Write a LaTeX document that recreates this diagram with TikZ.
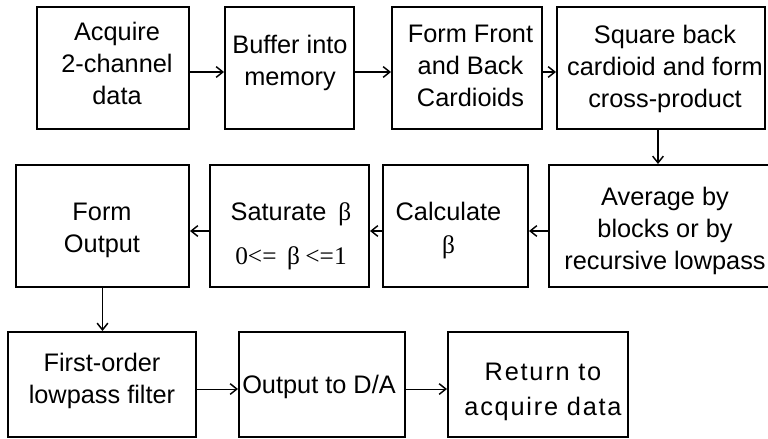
\documentclass[tikz,border=0pt]{standalone}
\usepackage{fontspec}
\setmainfont{Liberation Sans}
\newfontfamily\timesf{Liberation Serif}
\usetikzlibrary{arrows.meta}
\begin{document}
\begin{tikzpicture}[x=0.75pt,y=-0.75pt,
  box/.style={draw, line width=1.5pt, inner sep=0pt, minimum height=91.5pt},
  lowbox/.style={box, minimum height=78.75pt},
  txt/.style={anchor=north, inner sep=0pt, align=center, font=\fontsize{19}{24}\selectfont},
  arr/.style={line width=0.8pt, -{Straight Barb[length=5pt,width=8pt,line width=1.1pt]}}]
\useasboundingbox (0,0) rectangle (768,439);
\clip (0,0) rectangle (768,439);
% row 1
\node[box, minimum width=114pt] (A) at (113,68) {};
\node[box, minimum width=96.75pt] (B) at (289.5,68) {};
\node[box, minimum width=112.5pt] (C) at (467,68) {};
\node[box, minimum width=156pt] (D) at (661,68) {};
% row 2
\node[box, minimum width=129.75pt] (E) at (102.5,226) {};
\node[box, minimum width=119.25pt] (F) at (289.5,226) {};
\node[box, minimum width=108.75pt] (G) at (455.5,226) {};
\node[box, minimum width=177pt] (H) at (667,226) {};
% row 3
\node[lowbox, minimum width=141pt] (I) at (102,384.5) {};
\node[lowbox, minimum width=124.5pt] (J) at (322,384.5) {};
\node[lowbox, minimum width=135pt] (K) at (538,384.5) {};
% texts
\node[txt] (tA) at (117,22) {Acquire\\2-channel\\data};
\node[txt] (tB) at (290,35) {Buffer into\\memory};
\node[txt] (tC) at (470.5,25) {Form Front\\and Back\\Cardioids};
\node[txt] (tD) at (665,25) {Square back\\cardioid and form\\cross-product};
\node[txt] (tE) at (102,203) {Form\\Output};
\node[txt] (tF) at (291,202) {Saturate\hspace{9pt}{\timesf β}\\[9pt]{\timesf 0<=\hspace{8pt}β\hspace{4pt}<=1}};
\node[txt] (tG) at (448.5,202) {Calculate\\[1pt]{\timesf β}};
\node[txt] (tH) at (665,187) {Average by\\blocks or by\\recursive lowpass};
\node[txt] (tI) at (102,353) {First-order\\lowpass filter};
\node[txt] (tJ) at (319,375) {Output to D/A};
\node[txt, font=\fontsize{19}{26}\selectfont\addfontfeature{LetterSpace=7}] (tK) at (543,363) {Return to\\acquire data};
% connectors
\draw[arr] ([yshift=-3pt]A.east) -- ([yshift=-3pt]B.west);
\draw[arr] ([yshift=-3pt]B.east) -- ([yshift=-3pt]C.west);
\draw[arr] ([yshift=-3pt]C.east) -- ([yshift=-3pt]D.west);
\draw[arr] ([xshift=-2.25pt]D.south) -- ([xshift=-2.25pt]D.south |- H.north);
\draw[arr] ([yshift=-3.75pt]H.west) -- ([yshift=-3.75pt]G.east);
\draw[arr] ([yshift=-3.75pt]G.west) -- ([yshift=-3.75pt]F.east);
\draw[arr] ([yshift=-3.75pt]F.west) -- ([yshift=-3.75pt]E.east);
\draw[arr] (E.south) -- (E.south |- I.north);
\draw[arr] ([yshift=-3.4pt]I.east) -- ([yshift=-3.4pt]J.west);
\draw[arr] ([yshift=-3.4pt]J.east) -- ([yshift=-3.4pt]K.west);
\end{tikzpicture}
\end{document}
